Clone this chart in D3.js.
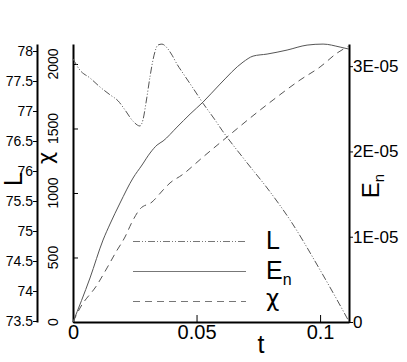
<!DOCTYPE html>
<html>
<head>
<meta charset="utf-8">
<script src="https://cdn.jsdelivr.net/npm/d3@7"></script>
<style>
  body { margin: 0; background: #fff; }
  svg { display: block; font-family: "Liberation Sans", Arial, sans-serif; }
  .domain { stroke: #000; stroke-width: 2; }
  .tick line { stroke: #000; }
  .greek { font-family: "DejaVu Sans", sans-serif; }
</style>
</head>
<body>
<svg id="chart" width="407" height="362"></svg>
<script>
// data
const tL = [0, 0.00283, 0.00688, 0.01093, 0.01498, 0.01822, 0.0210, 0.0243, 0.0271, 0.0283, 0.0296, 0.0312, 0.0328, 0.0344, 0.0360, 0.0381, 0.0401, 0.0421, 0.0445, 0.0486, 0.0526, 0.0575, 0.0603, 0.0696, 0.0798, 0.0879, 0.1, 0.1069, 0.1117];
const lVals = [77.87, 77.68, 77.55, 77.40, 77.27, 77.17, 77.02, 76.83, 76.75, 76.85, 77.15, 77.58, 77.93, 78.10, 78.115, 78.05, 77.93, 77.78, 77.63, 77.38, 77.13, 76.85, 76.68, 76.18, 75.65, 75.18, 74.35, 73.85, 73.49];

const tEn = [0, 0.00688, 0.01215, 0.01498, 0.01903, 0.02429, 0.02794, 0.03117, 0.03401, 0.03644, 0.04211, 0.04737, 0.05263, 0.05951, 0.06883, 0.07287, 0.07854, 0.08664, 0.09474, 0.10121, 0.1081, 0.1117];
const enVals = [0, 5.16e-6, 9.61e-6, 1.149e-5, 1.395e-5, 1.688e-5, 1.841e-5, 1.981e-5, 2.075e-5, 2.122e-5, 2.286e-5, 2.438e-5, 2.579e-5, 2.790e-5, 3.048e-5, 3.118e-5, 3.142e-5, 3.189e-5, 3.247e-5, 3.259e-5, 3.224e-5, 3.20e-5];

const tChi = [0, 0.00283, 0.00972, 0.01377, 0.01741, 0.02105, 0.02389, 0.02713, 0.03198, 0.03644, 0.03927, 0.04413, 0.05263, 0.06235, 0.07166, 0.08097, 0.0919, 0.1, 0.10688, 0.1117];
const chiVals = [0, 108, 287, 419, 543, 659, 775, 876, 930, 1023, 1078, 1140, 1279, 1434, 1581, 1721, 1876, 1977, 2085, 2140];

// ticks
const tTicks = [0, 0.05, 0.1];
const tLabels = ["0", "0.05", "0.1"];
const tMinor = [0.01, 0.02, 0.03, 0.04, 0.06, 0.07, 0.08, 0.09, 0.11];
const lTicks = [73.5, 74, 74.5, 75, 75.5, 76, 76.5, 77, 77.5, 78];
const lMinor = [73.6, 73.7, 73.8, 73.9, 74.1, 74.2, 74.3, 74.4, 74.6, 74.7, 74.8, 74.9, 75.1, 75.2, 75.3, 75.4, 75.6, 75.7, 75.8, 75.9, 76.1, 76.2, 76.3, 76.4, 76.6, 76.7, 76.8, 76.9, 77.1, 77.2, 77.3, 77.4, 77.6, 77.7, 77.8, 77.9, 78.1];
const chiTicks = [0, 500, 1000, 1500, 2000];
const chiMinor = [100, 200, 300, 400, 600, 700, 800, 900, 1100, 1200, 1300, 1400, 1600, 1700, 1800, 1900, 2100];
const enTicks = [0, 1e-5, 2e-5, 3e-5];
const enLabels = ["0", "1E-05", "2E-05", "3E-05"];
const enMid = [5e-6, 1.5e-5, 2.5e-5];
const enMinor = [1e-6, 2e-6, 3e-6, 4e-6, 6e-6, 7e-6, 8e-6, 9e-6, 1.1e-5, 1.2e-5, 1.3e-5, 1.4e-5, 1.6e-5, 1.7e-5, 1.8e-5, 1.9e-5, 2.1e-5, 2.2e-5, 2.3e-5, 2.4e-5, 2.6e-5, 2.7e-5, 2.8e-5, 2.9e-5, 3.1e-5, 3.2e-5];

const svg = d3.select("#chart");
const plotLeft = 73, plotRight = 349, plotTop = 44, plotBottom = 322;

const x = d3.scaleLinear().domain([0, 0.1117]).range([plotLeft, plotRight]);
const yL = d3.scaleLinear().domain([73.5 - 1 / 60, 78 + 7 / 60]).range([plotBottom, plotTop]);
const yChi = d3.scaleLinear().domain([0, 2155]).range([plotBottom, plotTop]);
const yEn = d3.scaleLinear().domain([0, 3.26e-5]).range([plotBottom, plotTop]);

// L axis (outer left)
const gL = svg.append("g").attr("transform", "translate(37,0)");
gL.call(d3.axisLeft(yL).tickValues(lMinor).tickSize(3).tickSizeOuter(0).tickFormat(""));
gL.call(d3.axisLeft(yL).tickValues(lTicks).tickSize(4).tickSizeOuter(0).tickPadding(0).tickFormat(d => d));
gL.selectAll("text").attr("font-size", 14).attr("fill", "#000");

// chi axis (inner left)
const gC = svg.append("g").attr("transform", `translate(${plotLeft},0)`);
gC.call(d3.axisLeft(yChi).tickValues(chiMinor).tickSize(-3).tickSizeOuter(0).tickFormat(""));
gC.call(d3.axisLeft(yChi).tickValues(chiTicks).tickSize(-5).tickSizeOuter(0).tickFormat(""));
svg.append("g").selectAll("text").data(chiTicks).join("text")
  .attr("transform", d => `translate(58,${yChi(d)}) rotate(-90)`)
  .attr("text-anchor", "middle").attr("font-size", 14)
  .text(d => d);

// E_n axis (right)
const gE = svg.append("g").attr("transform", `translate(${plotRight},0)`);
gE.call(d3.axisRight(yEn).tickValues(enMinor).tickSize(3).tickSizeOuter(0).tickFormat(""));
gE.call(d3.axisRight(yEn).tickValues(enMid).tickSize(7).tickSizeOuter(0).tickFormat(""));
gE.call(d3.axisRight(yEn).tickValues(enTicks).tickSize(4).tickSizeOuter(0).tickPadding(0)
  .tickFormat((d, i) => enLabels[i]));
gE.selectAll("text").attr("font-size", 17).attr("fill", "#000");

// t axis
const gX = svg.append("g").attr("transform", `translate(0,${plotBottom})`);
gX.call(d3.axisBottom(x).tickValues(tMinor).tickSize(-4).tickSizeOuter(0).tickFormat(""));
gX.call(d3.axisBottom(x).tickValues(tTicks).tickSize(-7).tickSizeOuter(0).tickPadding(3)
  .tickFormat((d, i) => tLabels[i]));
gX.selectAll("text").attr("font-size", 20).attr("fill", "#000");

svg.selectAll(".domain").attr("stroke-width", 2);

// axis titles
svg.append("text").attr("transform", "translate(22,179) rotate(-90)")
  .attr("text-anchor", "middle").attr("font-size", 25).text("L");
svg.append("text").attr("class", "greek").attr("transform", "translate(53,158) rotate(-90)")
  .attr("text-anchor", "middle").attr("font-size", 21).text("χ");
const enTitle = svg.append("text").attr("transform", "translate(379,186) rotate(-90)")
  .attr("text-anchor", "middle").attr("font-size", 24);
enTitle.append("tspan").text("E");
enTitle.append("tspan").attr("font-size", 15).attr("dy", 5).text("n");
svg.append("text").attr("x", 261).attr("y", 353).attr("text-anchor", "middle")
  .attr("font-size", 25).text("t");

// curves
const series = [
  { t: tL, v: lVals, y: yL, dash: "7,2,1,2,1,2" },
  { t: tEn, v: enVals, y: yEn, dash: null },
  { t: tChi, v: chiVals, y: yChi, dash: "7,5" }
];
series.forEach(s => {
  const line = d3.line().curve(d3.curveMonotoneX)
    .x((d, i) => x(s.t[i])).y(d => s.y(d));
  svg.append("path").attr("d", line(s.v))
    .attr("fill", "none").attr("stroke", "#555").attr("stroke-width", 1)
    .attr("stroke-dasharray", s.dash);
});

// legend
const legY = [241, 271, 301];
const legDash = ["7,2,1,2,1,2", null, "7,5"];
legY.forEach((ly, i) => {
  svg.append("line").attr("x1", 133).attr("x2", 246).attr("y1", ly + 0.5).attr("y2", ly + 0.5)
    .attr("stroke", "#777").attr("stroke-width", 1).attr("stroke-dasharray", legDash[i]);
});
svg.append("text").attr("x", 266).attr("y", 249).attr("font-size", 25).text("L");
const enLeg = svg.append("text").attr("x", 266).attr("y", 279).attr("font-size", 25);
enLeg.append("tspan").text("E");
enLeg.append("tspan").attr("font-size", 16).attr("dy", 6).text("n");
svg.append("text").attr("class", "greek").attr("x", 266).attr("y", 306).attr("font-size", 23).text("χ");
</script>
</body>
</html>
